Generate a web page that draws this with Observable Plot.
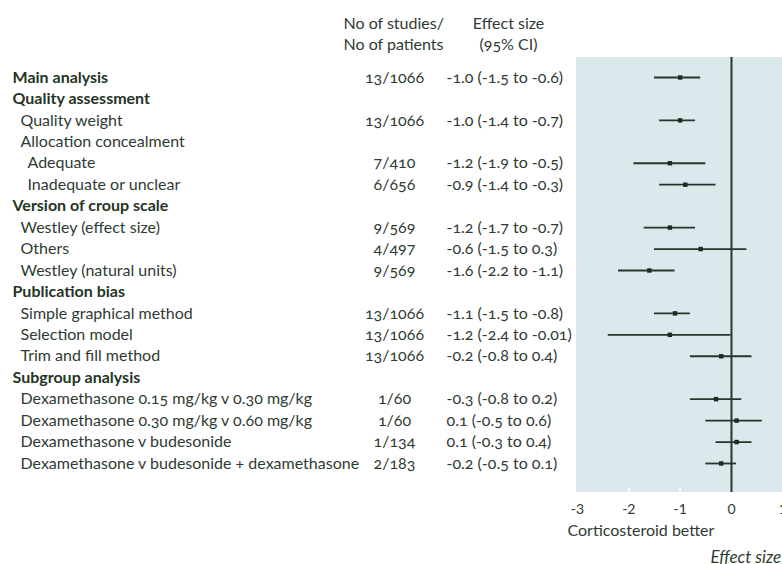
<!DOCTYPE html>
<html>
<head>
<meta charset="utf-8">
<script src="https://cdn.jsdelivr.net/npm/d3@7"></script>
<script src="https://cdn.jsdelivr.net/npm/@observablehq/plot@0.6"></script>
<style>
  html, body { margin: 0; padding: 0; background: #fff; overflow: hidden; }
  #chart svg { font-family: Lato, "Open Sans", sans-serif; font-variant-numeric: oldstyle-nums; }
</style>
</head>
<body>
<div id="chart"></div>
<script>
// ---- Data ----
const labels = [
  "Main analysis",
  "Quality assessment",
  "Quality weight",
  "Allocation concealment",
  "Adequate",
  "Inadequate or unclear",
  "Version of croup scale",
  "Westley (effect size)",
  "Others",
  "Westley (natural units)",
  "Publication bias",
  "Simple graphical method",
  "Selection model",
  "Trim and fill method",
  "Subgroup analysis",
  "Dexamethasone 0.15 mg/kg v 0.30 mg/kg",
  "Dexamethasone 0.30 mg/kg v 0.60 mg/kg",
  "Dexamethasone v budesonide",
  "Dexamethasone v budesonide + dexamethasone"
];
const levels = [0, 0, 1, 1, 2, 2, 0, 1, 1, 1, 0, 1, 1, 1, 0, 1, 1, 1, 1];
const studies = ["13/1066", "", "13/1066", "", "7/410", "6/656", "", "9/569", "4/497", "9/569", "",
  "13/1066", "13/1066", "13/1066", "", "1/60", "1/60", "1/134", "2/183"];
const estimate = [-1.0, null, -1.0, null, -1.2, -0.9, null, -1.2, -0.6, -1.6, null, -1.1, -1.2, -0.2, null, -0.3, 0.1, 0.1, -0.2];
const lower    = [-1.5, null, -1.4, null, -1.9, -1.4, null, -1.7, -1.5, -2.2, null, -1.5, -2.4, -0.8, null, -0.8, -0.5, -0.3, -0.5];
const upper    = [-0.6, null, -0.7, null, -0.5, -0.3, null, -0.7,  0.3, -1.1, null, -0.8, -0.01, 0.4, null,  0.2,  0.6,  0.4,  0.1];
const effectText = ["-1.0 (-1.5 to -0.6)", "", "-1.0 (-1.4 to -0.7)", "", "-1.2 (-1.9 to -0.5)", "-0.9 (-1.4 to -0.3)", "",
  "-1.2 (-1.7 to -0.7)", "-0.6 (-1.5 to 0.3)", "-1.6 (-2.2 to -1.1)", "",
  "-1.1 (-1.5 to -0.8)", "-1.2 (-2.4 to -0.01)", "-0.2 (-0.8 to 0.4)", "",
  "-0.3 (-0.8 to 0.2)", "0.1 (-0.5 to 0.6)", "0.1 (-0.3 to 0.4)", "-0.2 (-0.5 to 0.1)"];
const headerStudies = "No of studies/\nNo of patients";
const headerEffect = "Effect size\n(95% CI)";
const xTicks = [-3, -2, -1, 0, 1];
const favourLabel = "Corticosteroid better";
const axisLabel = "Effect size";

// ---- Build rows ----
const rows = labels.map((label, i) => ({
  i, label, level: levels[i], studies: studies[i], est: estimate[i], lo: lower[i], hi: upper[i], text: effectText[i]
}));
const withCI = rows.filter(d => d.est !== null);
const n = rows.length;

const ink = "#2e3b31";
const panelTop = -0.93, panelBottom = n + 0.35;

const chart = Plot.plot({
  width: 782,
  height: 564,
  marginLeft: 12,
  marginRight: 0,
  marginTop: 57,
  marginBottom: 72,
  x: { domain: [-3, 1], range: [577, 782.3] },
  y: { type: "linear", domain: [-3.59, 22.71], range: [0, 564], axis: null },
  style: { color: ink, fontSize: "16px", background: "white" },
  marks: [
    Plot.rect([0], { x1: -3.02, x2: 1.5, y1: panelTop, y2: panelBottom, fill: "#dbe8ec" }),
    Plot.ruleX(xTicks.slice(1, 3), { y1: panelBottom - 0.2, y2: panelBottom, stroke: "white", strokeWidth: 1.5 }),
    Plot.ruleX([0], { y1: panelTop, y2: panelBottom, stroke: "#26362e", strokeWidth: 2 }),
    Plot.ruleY(withCI, { y: "i", x1: "lo", x2: "hi", stroke: "#26362e", strokeWidth: 1.8 }),
    Plot.dot(withCI, { x: "est", y: "i", symbol: "square", r: 2.5, fill: "#1d2a22", stroke: null }),
    // labels
    Plot.text(rows.filter(d => d.level === 0), { y: "i", text: "label", frameAnchor: "left", textAnchor: "start", dx: 0, fontWeight: "bold", fill: "#243524", fontSize: 16 }),
    Plot.text(rows.filter(d => d.level === 1), { y: "i", text: "label", frameAnchor: "left", textAnchor: "start", dx: 8, fill: ink, fontSize: 16 }),
    Plot.text(rows.filter(d => d.level === 2), { y: "i", text: "label", frameAnchor: "left", textAnchor: "start", dx: 15, fill: ink, fontSize: 16 }),
    // studies column
    Plot.text(rows.filter(d => d.studies), { y: "i", text: "studies", frameAnchor: "left", textAnchor: "middle", dx: 382, fill: ink, fontSize: 16 }),
    // effect column
    Plot.text(rows.filter(d => d.text), { y: "i", text: "text", frameAnchor: "left", textAnchor: "start", dx: 434, fill: ink, fontSize: 16 }),
    // headers
    Plot.text([headerStudies], { y: -2.07, text: d => d, frameAnchor: "left", textAnchor: "start", dx: 331, lineHeight: 1.31, fill: ink, fontSize: 16 }),
    Plot.text([headerEffect], { y: -2.07, text: d => d, frameAnchor: "left", textAnchor: "middle", dx: 496, lineHeight: 1.31, fill: ink, fontSize: 16 }),
    // axis
    Plot.axisX(xTicks, { anchor: "bottom", tickSize: 0, tickPadding: 12, tickFormat: d => String(d), fontSize: 14, fill: ink, label: null }),
    Plot.text([favourLabel], { x: -3, y: n + 2.13, text: d => d, textAnchor: "start", dx: -10, fill: ink, fontSize: 16 }),
    Plot.text([axisLabel], { x: 0, y: n + 3.39, text: d => d, textAnchor: "start", dx: -21, fill: ink, fontSize: 17, fontStyle: "italic" })
  ]
});
document.getElementById("chart").append(chart);
</script>
</body>
</html>
